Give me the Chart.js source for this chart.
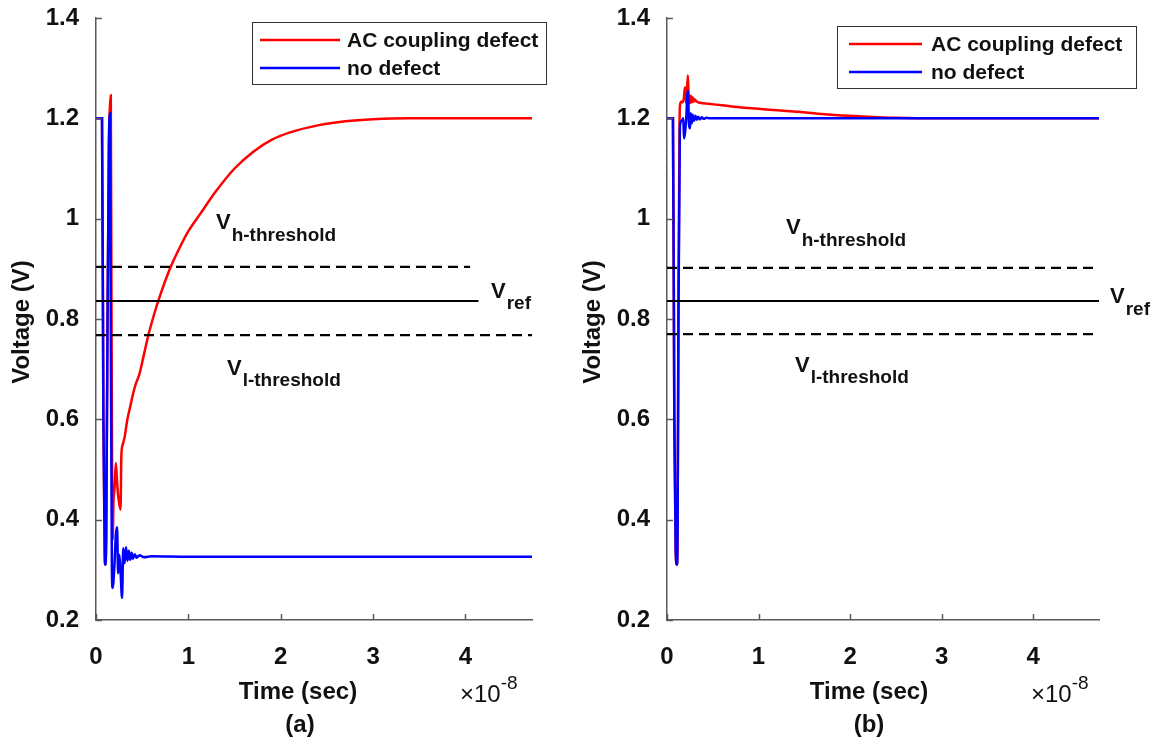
<!DOCTYPE html>
<html>
<head>
<meta charset="utf-8">
<script src="https://cdn.jsdelivr.net/npm/chart.js@4"></script>
<style>
html, body { margin: 0; padding: 0; background: #fff; width: 1161px; height: 745px; overflow: hidden; }
canvas { position: absolute; top: 0; }
#chartA { left: 0; }
#chartB { left: 580px; }
</style>
</head>
<body>
<canvas id="chartA" width="580" height="745"></canvas>
<canvas id="chartB" width="581" height="745"></canvas>
<script>
// time is in units of 1e-8 sec (axis shows x10^-8), voltage in V

// (a) AC coupling defect
var tRedA = [0, 0.055, 0.065, 0.08, 0.095, 0.1, 0.11, 0.125, 0.14, 0.15, 0.16, 0.168, 0.18, 0.19, 0.2, 0.215, 0.23, 0.245, 0.265, 0.275, 0.29, 0.31, 0.34, 0.37, 0.4, 0.43, 0.47, 0.52, 0.57, 0.63, 0.7, 0.8, 0.9, 1.0, 1.13, 1.3, 1.5, 1.7, 1.9, 2.1, 2.4, 2.7, 3.0, 3.4, 4.0, 4.72];
var vRedA = [1.2, 1.2, 1.2, 0.6, 0.33, 0.31, 0.36, 0.8, 1.15, 1.22, 1.246, 0.8, 0.36, 0.44, 0.46, 0.513, 0.47, 0.44, 0.42, 0.53, 0.55, 0.565, 0.6, 0.625, 0.65, 0.67, 0.69, 0.73, 0.77, 0.81, 0.85, 0.9, 0.94, 0.975, 1.01, 1.055, 1.1, 1.133, 1.157, 1.172, 1.186, 1.194, 1.198, 1.2, 1.2, 1.2];
// (a) no defect
var tBlueA = [0, 0.055, 0.065, 0.08, 0.095, 0.1, 0.11, 0.125, 0.14, 0.152, 0.16, 0.172, 0.18, 0.2, 0.215, 0.228, 0.24, 0.252, 0.265, 0.282, 0.295, 0.31, 0.325, 0.34, 0.355, 0.37, 0.385, 0.4, 0.42, 0.44, 0.47, 0.52, 0.6, 1, 2, 3, 4, 4.72];
var vBlueA = [1.2, 1.2, 1.2, 0.6, 0.33, 0.31, 0.36, 0.8, 1.15, 1.21, 0.8, 0.3, 0.264, 0.31, 0.37, 0.385, 0.293, 0.33, 0.3, 0.244, 0.343, 0.313, 0.345, 0.318, 0.338, 0.32, 0.334, 0.322, 0.331, 0.324, 0.329, 0.325, 0.327, 0.326, 0.326, 0.326, 0.326, 0.326];

// (b) AC coupling defect
var tRedB = [0, 0.055, 0.065, 0.08, 0.095, 0.108, 0.115, 0.125, 0.135, 0.141, 0.155, 0.17, 0.184, 0.196, 0.21, 0.228, 0.238, 0.25, 0.26, 0.27, 0.28, 0.29, 0.3, 0.32, 0.36, 0.45, 0.6, 0.79, 1.0, 1.2, 1.44, 1.65, 1.87, 2.1, 2.5, 3.0, 4.0, 4.72];
var vRedB = [1.2, 1.2, 1.2, 0.6, 0.34, 0.31, 0.36, 0.8, 1.15, 1.225, 1.233, 1.232, 1.24, 1.262, 1.23, 1.286, 1.235, 1.23, 1.245, 1.232, 1.242, 1.233, 1.238, 1.234, 1.231, 1.229, 1.226, 1.222, 1.219, 1.216, 1.213, 1.209, 1.206, 1.204, 1.201, 1.2, 1.2, 1.2];
// (b) no defect
var tBlueB = [0, 0.055, 0.065, 0.08, 0.095, 0.108, 0.115, 0.125, 0.141, 0.16, 0.178, 0.186, 0.196, 0.21, 0.228, 0.24, 0.25, 0.26, 0.27, 0.28, 0.295, 0.31, 0.325, 0.34, 0.36, 0.38, 0.4, 0.43, 0.47, 0.5, 1, 2, 3, 4, 4.72];
var vBlueB = [1.2, 1.2, 1.2, 0.6, 0.34, 0.31, 0.36, 0.8, 1.185, 1.195, 1.2, 1.16, 1.17, 1.2, 1.255, 1.19, 1.18, 1.21, 1.19, 1.207, 1.195, 1.205, 1.197, 1.203, 1.198, 1.202, 1.199, 1.201, 1.2, 1.2, 1.2, 1.2, 1.2, 1.2, 1.2];

// threshold levels: h-threshold, ref, l-threshold and where each line stops
var levelsA = [0.904, 0.836, 0.768];
var levelEndA = [4.05, 4.14, 4.72];
var levelsB = [0.902, 0.836, 0.770];
var levelEndB = [4.72, 4.72, 4.72];

var seriesNames = ['AC coupling defect', 'no defect'];
var xMax = 4.72;
var yMin = 0.2, yMax = 1.4;

var FONT = '"Liberation Sans", Arial, Helvetica, sans-serif';
var axisColor = '#5a5a5a';

function pts(t, v) {
  return t.map(function (x, i) { return { x: x, y: v[i] }; });
}

function drawSub(ctx, x, y, main, sub, dy) {
  ctx.textAlign = 'left';
  ctx.textBaseline = 'alphabetic';
  ctx.font = 'bold 22px ' + FONT;
  ctx.fillText(main, x, y);
  var w = ctx.measureText(main).width;
  ctx.font = 'bold 19px ' + FONT;
  ctx.fillText(sub, x + w + 1, y + dy);
}

// draws the matlab style extras: inward ticks, legend box, labels
var matlabLook = {
  id: 'matlabLook',
  afterDraw: function (chart, args, o) {
    var ctx = chart.ctx;
    var xs = chart.scales.x, ys = chart.scales.y, a = chart.chartArea;
    ctx.save();

    // inward tick marks
    ctx.strokeStyle = axisColor;
    ctx.lineWidth = 1.5;
    ys.ticks.forEach(function (t) {
      var py = Math.round(ys.getPixelForValue(t.value)) + 0.5;
      ctx.beginPath(); ctx.moveTo(a.left, py); ctx.lineTo(a.left + 6, py); ctx.stroke();
    });
    xs.ticks.forEach(function (t) {
      var px = Math.round(xs.getPixelForValue(t.value)) + 0.5;
      ctx.beginPath(); ctx.moveTo(px, a.bottom); ctx.lineTo(px, a.bottom - 6); ctx.stroke();
    });

    // legend
    var L = o.legend;
    ctx.fillStyle = '#fff';
    ctx.fillRect(L.x, L.y, L.w, L.h);
    ctx.strokeStyle = '#333';
    ctx.lineWidth = 1;
    ctx.strokeRect(L.x + 0.5, L.y + 0.5, L.w, L.h);
    ctx.font = 'bold 21px ' + FONT;
    ctx.textAlign = 'left';
    ctx.textBaseline = 'middle';
    for (var i = 0; i < 2; i++) {
      var ds = chart.data.datasets[i];
      ctx.strokeStyle = ds.borderColor;
      ctx.lineWidth = 2.5;
      ctx.beginPath(); ctx.moveTo(L.lx1, L.rows[i]); ctx.lineTo(L.lx2, L.rows[i]); ctx.stroke();
      ctx.fillStyle = '#111';
      ctx.fillText(ds.label, L.tx, L.rows[i] + 1);
    }

    // threshold annotations
    ctx.fillStyle = '#111';
    o.notes.forEach(function (n) { drawSub(ctx, n.x, n.y, 'V', n.sub, n.dy); });

    // axis titles
    ctx.font = 'bold 24px ' + FONT;
    ctx.textAlign = 'center';
    ctx.textBaseline = 'alphabetic';
    ctx.fillText('Time (sec)', o.xTitle.x, o.xTitle.y);
    ctx.fillText(o.tag, o.tagPos.x, o.tagPos.y);
    ctx.save();
    ctx.translate(o.yTitle.x, o.yTitle.y);
    ctx.rotate(-Math.PI / 2);
    ctx.textBaseline = 'middle';
    ctx.fillText('Voltage (V)', 0, 0);
    ctx.restore();

    // exponent label
    ctx.textAlign = 'left';
    ctx.font = '24px ' + FONT;
    ctx.fillText('\u00d710', o.expo.x, o.expo.y);
    var ew = ctx.measureText('\u00d710').width;
    ctx.font = '19px ' + FONT;
    ctx.fillText('-8', o.expo.x + ew, o.expo.y - 13);

    ctx.restore();
  }
};

function makeChart(id, d) {
  var levelSets = d.levels.map(function (lv, i) {
    return {
      label: 'level' + i,
      data: pts([0, d.levelEnd[i]], [lv, lv]),
      borderColor: '#000',
      borderWidth: i === 1 ? 2 : 2.2,
      borderDash: i === 1 ? [] : [10, 6],
      pointRadius: 0,
      showLine: true,
      order: 0
    };
  });
  return new Chart(document.getElementById(id), {
    type: 'scatter',
    data: {
      datasets: [
        { label: seriesNames[0], data: pts(d.tRed, d.vRed), borderColor: '#ff0000', borderWidth: 2.5, showLine: true, cubicInterpolationMode: 'monotone', pointRadius: 0, order: 2 },
        { label: seriesNames[1], data: pts(d.tBlue, d.vBlue), borderColor: '#0000ff', borderWidth: 2.5, showLine: true, cubicInterpolationMode: 'monotone', pointRadius: 0, order: 1 }
      ].concat(levelSets)
    },
    options: {
      responsive: false,
      animation: false,
      layout: { padding: d.padding },
      plugins: {
        legend: { display: false },
        tooltip: { enabled: false },
        matlabLook: d.look
      },
      scales: {
        x: {
          type: 'linear', min: 0, max: xMax,
          grid: { display: false, drawTicks: false },
          border: { display: true, color: axisColor, width: 1.5 },
          ticks: { stepSize: 1, includeBounds: false, padding: 23, color: '#111', font: { family: FONT, size: 24, weight: 'bold' } },
          afterFit: function (s) { s.height = 125; s.paddingLeft = 0; s.paddingRight = 0; }
        },
        y: {
          type: 'linear', min: yMin, max: yMax,
          grid: { display: false, drawTicks: false },
          border: { display: true, color: axisColor, width: 1.5 },
          ticks: {
            stepSize: 0.2, padding: 17, color: '#111',
            font: { family: FONT, size: 24, weight: 'bold' },
            callback: function (v) { return String(Number(v.toFixed(1))); }
          },
          afterFit: function (s) { s.width = 60; s.paddingTop = 0; s.paddingBottom = 0; }
        }
      }
    },
    plugins: [matlabLook]
  });
}

makeChart('chartA', {
  tRed: tRedA, vRed: vRedA, tBlue: tBlueA, vBlue: vBlueA,
  levels: levelsA, levelEnd: levelEndA,
  padding: { left: 36, right: 48, top: 18, bottom: 0 },
  look: {
    legend: { x: 252, y: 22, w: 294, h: 62, rows: [40, 68], lx1: 260, lx2: 340, tx: 347 },
    notes: [
      { x: 216, y: 229, sub: 'h-threshold', dy: 12 },
      { x: 491, y: 298, sub: 'ref', dy: 11 },
      { x: 227, y: 375, sub: 'l-threshold', dy: 11 }
    ],
    xTitle: { x: 298, y: 699 },
    yTitle: { x: 22, y: 322 },
    tag: '(a)', tagPos: { x: 300, y: 732 },
    expo: { x: 460, y: 702 }
  }
});

makeChart('chartB', {
  tRed: tRedB, vRed: vRedB, tBlue: tBlueB, vBlue: vBlueB,
  levels: levelsB, levelEnd: levelEndB,
  padding: { left: 27, right: 62, top: 18, bottom: 0 },
  look: {
    legend: { x: 257, y: 26, w: 299, h: 62, rows: [44, 72], lx1: 269, lx2: 342, tx: 351 },
    notes: [
      { x: 206, y: 234, sub: 'h-threshold', dy: 12 },
      { x: 530, y: 303, sub: 'ref', dy: 12 },
      { x: 215, y: 372, sub: 'l-threshold', dy: 11 }
    ],
    xTitle: { x: 289, y: 699 },
    yTitle: { x: 13, y: 322 },
    tag: '(b)', tagPos: { x: 289, y: 732 },
    expo: { x: 451, y: 702 }
  }
});
</script>
</body>
</html>
